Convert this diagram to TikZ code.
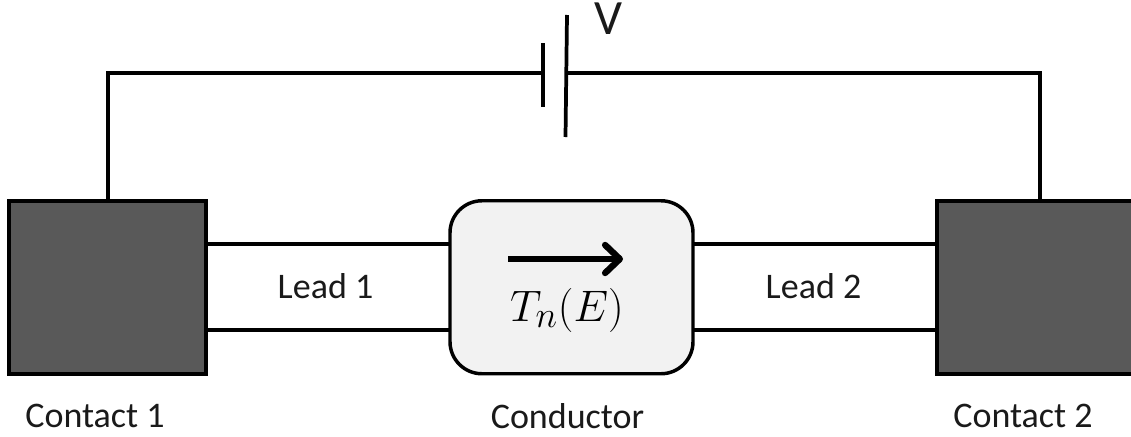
\documentclass[tikz,border=0pt]{standalone}
\usepackage{fontspec}
\setmainfont{Carlito}
\usetikzlibrary{arrows.meta}
\tikzset{
  contact/.style={draw=black,line width=3pt,fill=contactgray,minimum width=147.75pt,minimum height=129.75pt,inner sep=0pt,outer sep=0pt},
  conductor/.style={draw=black,line width=2.6pt,fill=condgray,rounded corners=24pt,minimum width=182.25pt,minimum height=129.75pt,inner sep=0pt,outer sep=0pt},
  wire/.style={draw=black,line width=2.3pt},
  lbl/.style={font=\fontsize{27}{32}\selectfont,text=labelblack,inner sep=0pt}
}
\definecolor{contactgray}{HTML}{595959}
\definecolor{condgray}{HTML}{F2F2F2}
\definecolor{labelblack}{HTML}{1A1A1A}
\begin{document}
\begin{tikzpicture}[x=0.75pt,y=-0.75pt]
\useasboundingbox (0,0) rectangle (1131,436);
\clip (0,0) rectangle (1131,436);
\coordinate (la) at (450,244); \coordinate (lb) at (450,330);
\coordinate (ra) at (693,244); \coordinate (rb) at (693,330);
\coordinate (lca) at (206,244); \coordinate (lcb) at (206,330);
\coordinate (rca) at (937,244); \coordinate (rcb) at (937,330);
\draw[wire] (lca) -- (la);
\draw[wire] (lcb) -- (lb);
\draw[wire] (ra) -- (rca);
\draw[wire] (rb) -- (rcb);
\node[contact] (c1) at (107.5,287.25) {};
\node[contact] (c2) at (1035.5,287.25) {};
\node[conductor] (cond) at (571.5,287.25) {};
\coordinate (p1top) at (543,43); \coordinate (p1bot) at (543,107);
\coordinate (p2top) at (567,15); \coordinate (p2bot) at (565.5,137);
\coordinate (w1) at (108,73); \coordinate (w2) at (1040,73);
\coordinate (w1s) at (108,201); \coordinate (w2s) at (1040,201);
\coordinate (p1m) at (543,73); \coordinate (p2m) at (566.5,73);
\draw[wire,line join=miter] (w1s) -- (w1) -- (p1m);
\draw[wire,line join=miter] (w2s) -- (w2) -- (p2m);
\draw[wire,line width=2.8pt] (p1top) -- (p1bot);
\draw[wire,line width=2.8pt] (p2top) -- (p2bot);
\coordinate (as) at (508,259); \coordinate (ae) at (623,259);
\draw[draw=black,line width=4.8pt,-{Straight Barb[length=11pt,width=21pt,line width=4.8pt,round]}] (as) -- (ae);
\node[lbl,font=\fontsize{37}{42}\selectfont] (v) at (608,19) {V};
\node[lbl] (l1) at (325.5,286) {Lead 1};
\node[lbl] (l2) at (813.5,286) {Lead 2};
\node[lbl] (t1) at (95,416) {Contact 1};
\node[lbl] (t2) at (567.5,416) {Conductor};
\node[lbl] (t3) at (1023,416) {Contact 2};
\node[inner sep=0pt,text=black,font=\fontsize{24.88}{30}\selectfont,scale=1.33] (tn) at (567,310) {$T_n(E)$};
\end{tikzpicture}
\end{document}
